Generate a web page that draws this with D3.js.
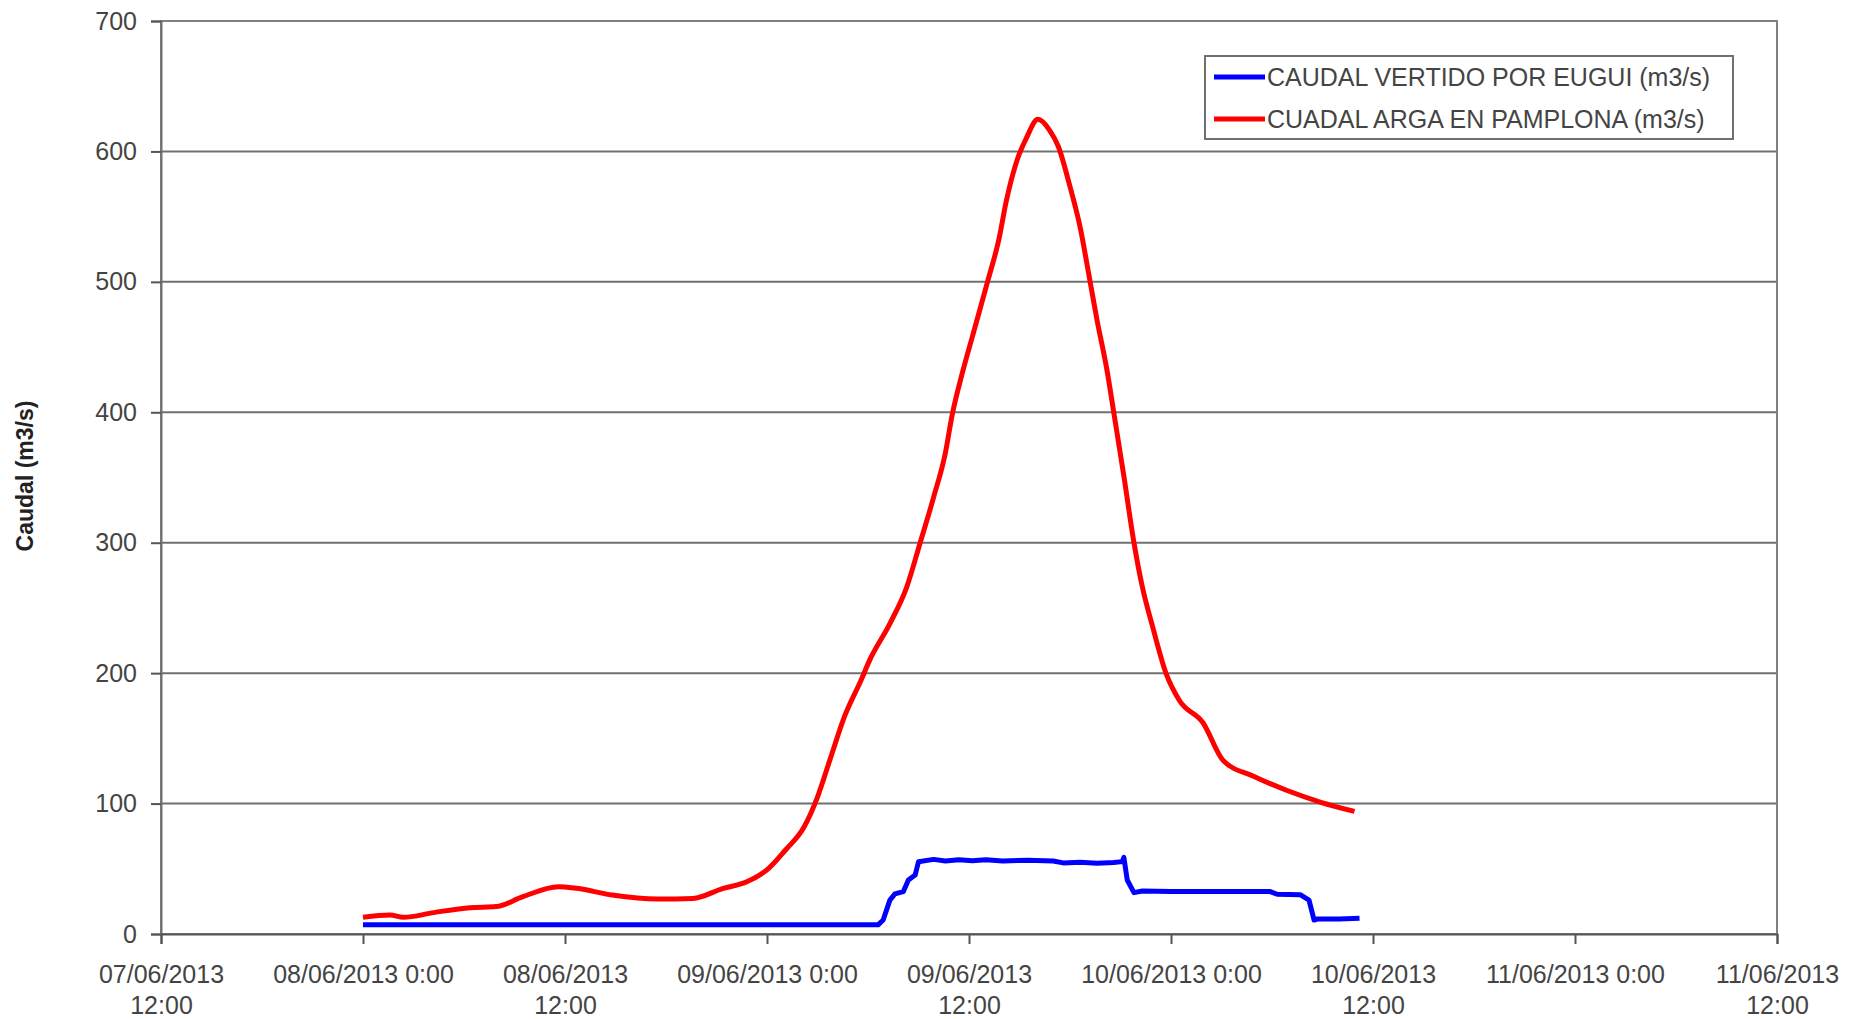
<!DOCTYPE html>
<html>
<head>
<meta charset="utf-8">
<script src="https://cdn.jsdelivr.net/npm/d3@7"></script>
<style>
  body { margin: 0; background: #fff; }
  text { font-family: "Liberation Sans", Arial, sans-serif; }
</style>
</head>
<body>
<svg id="chart"></svg>
<script>
// time axis runs from 07/06/2013 12:00 to 11/06/2013 12:00
var startTime = new Date(2013, 5, 7, 12, 0);
var tickHours = [0, 12, 24, 36, 48, 60, 72, 84, 96];
var tickLabels = [
  ["07/06/2013", "12:00"], ["08/06/2013 0:00"], ["08/06/2013", "12:00"],
  ["09/06/2013 0:00"], ["09/06/2013", "12:00"], ["10/06/2013 0:00"],
  ["10/06/2013", "12:00"], ["11/06/2013 0:00"], ["11/06/2013", "12:00"]
];
var yTicks = [0, 100, 200, 300, 400, 500, 600, 700];

var seriesNames = ["CAUDAL VERTIDO POR EUGUI (m3/s)", "CUADAL ARGA EN PAMPLONA (m3/s)"];
var seriesColors = ["#0000ff", "#ff0000"];

// hours since 07/06/2013 12:00
var euguiHours = [12, 20, 30, 42.6, 42.9, 43.3, 43.6, 44.1, 44.4, 44.8, 45.0, 45.9, 46.6, 47.4, 48.2, 49.0,
  50.0, 51.5, 53.0, 53.6, 54.6, 55.6, 56.6, 57.1, 57.2, 57.4, 57.8, 58.3, 60, 63, 65.9, 66.3, 67.7, 68.2,
  68.5, 68.7, 70, 71.2];
var euguiFlow = [7, 7, 7, 7, 10.7, 26, 30.7, 32.5, 41.4, 45.2, 55.4, 57.2, 56, 57, 56.2, 57,
  56, 56.5, 56, 54.5, 55, 54.2, 54.8, 55.5, 58.8, 41.4, 31.7, 33, 32.5, 32.5, 32.5, 30.5, 30, 26,
  10.7, 11.5, 11.5, 12];

var argaHours = [12, 13.6, 14.4, 16.2, 18.35, 19.9, 21.5, 23.6, 24.7, 26.8, 29.5, 31.6, 33.4, 34.8,
  36.1, 37.1, 38.2, 39.0, 39.8, 40.6, 41.6, 42.1, 43.3, 44.3, 45.1, 45.9, 46.6, 47.0, 47.6, 48.2,
  49.1, 49.8, 50.2, 50.9, 51.4, 52.1, 52.8, 53.3, 54.0, 54.6, 55.1, 55.6, 56.2, 56.6, 57.2, 57.8,
  58.3, 58.9, 59.7, 60.5, 61.9, 63.1, 64.9, 66.9, 68.9, 70.9];
var argaFlow = [12.8, 14.6, 12.8, 16.4, 20.2, 21, 28.6, 36.3, 35, 29.9, 26.8, 27.3, 35, 40,
  50.3, 64.4, 82, 105, 136, 166.6, 195, 210, 238, 266, 300, 335, 369, 398, 430, 458,
  500, 534, 561, 595, 610, 624.6, 616, 604, 573, 542, 507, 471, 432, 400, 351, 300,
  266, 236, 200, 179, 162, 133, 121, 110, 101, 94];

var width = 1853, height = 1019;
var margin = {top: 21, right: 76, bottom: 85, left: 161};
var innerW = width - margin.left - margin.right;
var innerH = height - margin.top - margin.bottom;

var svg = d3.select("#chart").attr("width", width).attr("height", height);
var g = svg.append("g").attr("transform", "translate(" + margin.left + "," + margin.top + ")");

var x = d3.scaleTime()
  .domain([startTime, d3.timeHour.offset(startTime, 96)])
  .range([0, innerW]);
var y = d3.scaleLinear().domain([0, 700]).range([innerH, 0]);

// gridlines
g.append("g")
  .selectAll("line")
  .data(yTicks)
  .enter().append("line")
    .attr("x1", 0).attr("x2", innerW)
    .attr("y1", d => y(d)).attr("y2", d => y(d))
    .attr("stroke", "#707070").attr("stroke-width", 2);

// plot frame
g.append("rect")
  .attr("width", innerW).attr("height", innerH)
  .attr("fill", "none").attr("stroke", "#808080").attr("stroke-width", 2);

// y axis
var yAxis = g.append("g")
  .call(d3.axisLeft(y).tickValues(yTicks).tickSize(10).tickPadding(14));
yAxis.select(".domain").attr("stroke", "#707070").attr("stroke-width", 2);
yAxis.selectAll(".tick line").attr("stroke", "#555").attr("stroke-width", 2);
yAxis.selectAll("text").attr("font-size", 25).attr("fill", "#444")
  .style("font-family", "'Liberation Sans', Arial, sans-serif");

// x axis with two-line labels
var tickDates = tickHours.map(h => d3.timeHour.offset(startTime, h));
var xAxis = g.append("g")
  .attr("transform", "translate(0," + innerH + ")")
  .call(d3.axisBottom(x).tickValues(tickDates).tickSize(10).tickFormat(""));
xAxis.select(".domain").attr("stroke", "#555").attr("stroke-width", 2);
xAxis.selectAll(".tick line").attr("stroke", "#555").attr("stroke-width", 2);
xAxis.selectAll(".tick").each(function(d, i) {
  var t = d3.select(this).select("text")
    .attr("y", 0).attr("dy", null)
    .attr("font-size", 25).attr("fill", "#444")
    .style("font-family", "'Liberation Sans', Arial, sans-serif");
  tickLabels[i].forEach(function(s, j) {
    t.append("tspan").attr("x", 0).attr("y", 49 + j * 31).text(s);
  });
});

// y axis title
svg.append("text")
  .attr("transform", "translate(33,476) rotate(-90)")
  .attr("text-anchor", "middle")
  .attr("font-size", 23).attr("font-weight", "bold").attr("fill", "#222")
  .text("Caudal (m3/s)");

// lines: blue follows steps, red is smooth
var toX = d => x(d3.timeMinute.offset(startTime, Math.round(d[0] * 60)));
var stepLine = d3.line().x(toX).y(d => y(d[1]));
var smoothLine = d3.line().x(toX).y(d => y(d[1])).curve(d3.curveMonotoneX);
var lineGens = [stepLine, smoothLine];

var series = [
  d3.zip(euguiHours, euguiFlow),
  d3.zip(argaHours, argaFlow)
];

g.selectAll(".serie")
  .data(series)
  .enter().append("path")
    .attr("class", "serie")
    .attr("d", (d, i) => lineGens[i](d))
    .attr("fill", "none")
    .attr("stroke", (d, i) => seriesColors[i])
    .attr("stroke-width", 5)
    .attr("stroke-linejoin", "round");

// legend
var legend = svg.append("g").attr("transform", "translate(1205,56)");
legend.append("rect")
  .attr("width", 528).attr("height", 83)
  .attr("fill", "#fff").attr("stroke", "#707070").attr("stroke-width", 2);
var items = legend.selectAll(".item")
  .data(seriesNames)
  .enter().append("g")
    .attr("transform", (d, i) => "translate(0," + (21 + i * 42) + ")");
items.append("line")
  .attr("x1", 9).attr("x2", 60)
  .attr("stroke", (d, i) => seriesColors[i]).attr("stroke-width", 5);
items.append("text")
  .attr("x", 62).attr("dy", "0.36em")
  .attr("font-size", 25).attr("fill", "#444")
  .text(d => d);
</script>
</body>
</html>
